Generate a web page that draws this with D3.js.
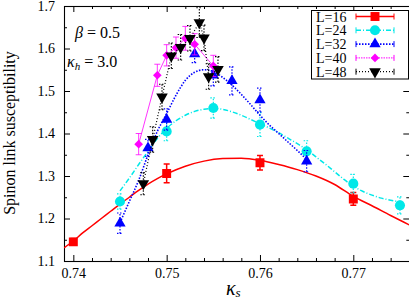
<!DOCTYPE html>
<html><head><meta charset="utf-8">
<script src="https://cdn.jsdelivr.net/npm/d3@7"></script>
<style>
body{margin:0;background:#fff}
svg{display:block}
text{font-family:"Liberation Serif","Times New Roman",serif;fill:#000}
</style>
</head><body>
<svg id="c" width="409" height="302"></svg>
<script>
// ---------------- data ----------------
const seriesNames = ["L=16","L=24","L=32","L=40","L=48"];

const k16 = [0.740,0.750,0.760,0.770];
const y16 = [1.145,1.306,1.331,1.246];
const e16 = [0.008,0.022,0.017,0.015];

const k24 = [0.745,0.750,0.755,0.760,0.765,0.770,0.775];
const y24 = [1.240,1.405,1.460,1.421,1.358,1.282,1.231];
const e24 = [0.018,0.022,0.024,0.028,0.025,0.022,0.020];

const k32 = [0.745,0.748,0.750,0.753,0.755,0.757,0.760,0.765];
const y32 = [1.189,1.366,1.433,1.587,1.537,1.524,1.479,1.335];
const e32 = [0.024,0.020,0.025,0.020,0.025,0.033,0.028,0.025];

const k40 = [0.747,0.749,0.750,0.751,0.752,0.753,0.755];
const y40 = [1.375,1.537,1.584,1.602,1.624,1.610,1.559];
const e40 = [0.025,0.026,0.025,0.025,0.028,0.025,0.025];

const k48 = [0.7475,0.7485,0.7495,0.7505,0.7515,0.7525,0.7535,0.7540,0.7545,0.7555];
const y48 = [1.282,1.386,1.486,1.583,1.603,1.624,1.661,1.625,1.534,1.551];
const e48 = [0.026,0.030,0.030,0.030,0.030,0.030,0.035,0.030,0.030,0.030];

// smooth curves
const fk16 = [0.739,0.740,0.741,0.742,0.743,0.744,0.745,0.746,0.747,0.748,0.749,0.750,0.752,0.754,0.756,0.758,0.760,0.762,0.764,0.766,0.768,0.770,0.772,0.774,0.776];
const fy16 = [1.131,1.147,1.166,1.183,1.200,1.217,1.234,1.250,1.266,1.281,1.294,1.305,1.323,1.335,1.341,1.342,1.337,1.327,1.315,1.300,1.280,1.252,1.230,1.207,1.185];

const fk24 = [0.745,0.746,0.747,0.748,0.749,0.750,0.751,0.752,0.753,0.754,0.755,0.756,0.757,0.758,0.759,0.760,0.761,0.762,0.763,0.764,0.765,0.766,0.767,0.768,0.769,0.770,0.771,0.772,0.773,0.774,0.775];
const fy24 = [1.265,1.295,1.327,1.358,1.388,1.412,1.430,1.443,1.452,1.457,1.459,1.457,1.451,1.443,1.433,1.423,1.413,1.402,1.389,1.376,1.362,1.345,1.328,1.310,1.292,1.276,1.264,1.255,1.248,1.243,1.239];

const fk32 = [0.745,0.746,0.747,0.748,0.749,0.750,0.751,0.752,0.753,0.754,0.755,0.756,0.757,0.758,0.759,0.760,0.761,0.762,0.763,0.764,0.765];
const fy32 = [1.190,1.240,1.290,1.350,1.405,1.447,1.490,1.525,1.544,1.550,1.546,1.532,1.514,1.492,1.468,1.443,1.420,1.400,1.380,1.360,1.339];

const xTicks = [0.74,0.75,0.76,0.77];
const yTicks = [1.1,1.2,1.3,1.4,1.5,1.6,1.7];

// ---------------- drawing ----------------
const svg = d3.select("#c");
const L = 64, R = 409.3, T = 6, B = 261;
const x = d3.scaleLinear().domain([0.739,0.776]).range([L,R]);
const y = d3.scaleLinear().domain([1.1,1.7]).range([B,T]);

svg.append("clipPath").attr("id","clp").append("rect")
  .attr("x",L).attr("y",T).attr("width",R-L).attr("height",B-T);

// axes
const xMinor = d3.range(0.740,0.7761,0.002).filter(v=>!xTicks.some(t=>Math.abs(t-v)<1e-6));
const yMinor = d3.range(1.15,1.7,0.1);
function ax(gen, tx, ty, vals, size, fmt, pad){
  const g = svg.append("g").attr("transform",`translate(${tx},${ty})`)
    .call(gen.tickValues(vals).tickSize(size).tickPadding(pad||3).tickFormat(fmt));
  g.select(".domain").remove();
  g.selectAll("line").attr("stroke","#000").attr("stroke-width",1);
  g.selectAll("text").style("font-size","14px").attr("font-family",null);
  return g;
}
ax(d3.axisBottom(x),0,B,xTicks,-6,d3.format(".2f"),7);
ax(d3.axisBottom(x),0,B,xMinor,-3,()=> "");
ax(d3.axisTop(x),0,T,xTicks,-6,()=> "");
ax(d3.axisTop(x),0,T,xMinor,-3,()=> "");
ax(d3.axisLeft(y),L,0,yTicks,-6,d3.format(".1f"),9);
ax(d3.axisLeft(y),L,0,yMinor,-3,()=> "");
ax(d3.axisRight(y),R,0,yTicks,-6,()=> "");
ax(d3.axisRight(y),R,0,yMinor,-3,()=> "");

svg.append("rect").attr("x",L+0.5).attr("y",T+0.5).attr("width",R-L).attr("height",B-T)
  .attr("fill","none").attr("stroke","#000").attr("stroke-width",1.1);

const plot = svg.append("g").attr("clip-path","url(#clp)");

const styles = [
  {c:"#ff0000", dash:null, w:1.5, sym:d3.symbolSquare, size:80, rot:0, fit:[fk16,fy16], lw:1.5},
  {c:"#00e8e8", dash:"5,2,1,2", w:1.2, sym:d3.symbolCircle, size:80, rot:0, fit:[fk24,fy24], lw:1.5},
  {c:"#0000ff", dash:"1.5,1.5", w:1.2, sym:d3.symbolTriangle, size:55, rot:0, fit:[fk32,fy32], lw:1.6},
  {c:"#ff00ff", dash:null, w:0.8, sym:d3.symbolDiamond2, size:48, rot:0, fit:null, lw:0.8, ldash:"1.5,1"},
  {c:"#000000", dash:"1,2", w:1.1, sym:d3.symbolTriangle, size:58, rot:180, fit:null, lw:1.2}
];
const data = [[k16,y16,e16],[k24,y24,e24],[k32,y32,e32],[k40,y40,e40],[k48,y48,e48]];

const line = d3.line().x(d=>x(d[0])).y(d=>y(d[1])).curve(d3.curveMonotoneX);
const sline = d3.line().x(d=>x(d[0])).y(d=>y(d[1]));

data.forEach((ds,i)=>{
  const st = styles[i];
  const pts = ds[0].map((k,j)=>[k,ds[1][j],ds[2][j]]);
  const g = plot.append("g");
  if(st.fit){
    const fp = st.fit[0].map((k,j)=>[k,st.fit[1][j]]);
    g.append("path").attr("d",line(fp)).attr("fill","none").attr("stroke",st.c)
      .attr("stroke-width",st.lw).attr("stroke-dasharray",st.dash);
  } else {
    g.append("path").attr("d",sline(pts)).attr("fill","none").attr("stroke",st.c)
      .attr("stroke-width",st.lw).attr("stroke-dasharray",st.dash);
  }
  pts.forEach(p=>{
    const px = x(p[0]), y0 = y(p[1]-p[2]), y1 = y(p[1]+p[2]);
    const eb = g.append("g").attr("stroke",st.c).attr("stroke-width",st.w).attr("stroke-dasharray",st.dash ? "1.5,1.5" : null);
    eb.append("line").attr("x1",px).attr("x2",px).attr("y1",y0).attr("y2",y1);
    eb.append("line").attr("x1",px-3).attr("x2",px+3).attr("y1",y0).attr("y2",y0).attr("stroke-dasharray",null);
    eb.append("line").attr("x1",px-3).attr("x2",px+3).attr("y1",y1).attr("y2",y1).attr("stroke-dasharray",null);
  });
  g.selectAll("path.m").data(pts).join("path").attr("class","m")
    .attr("d",d3.symbol().type(st.sym).size(st.size))
    .attr("transform",d=>`translate(${x(d[0])},${y(d[1])}) rotate(${st.rot})`)
    .attr("fill",st.c);
});

// legend
const lg = svg.append("g");
lg.append("rect").attr("x",311.5).attr("y",10.5).attr("width",97).attr("height",68.5)
  .attr("fill","#fff").attr("stroke","#000").attr("stroke-width",1);
seriesNames.forEach((nm,i)=>{
  const st = styles[i];
  const yy = 16.5 + i*13.8;
  lg.append("text").attr("x",316).attr("y",yy+5).style("font-size","14px").text(nm);
  const g = lg.append("g").attr("stroke",st.c);
  g.append("line").attr("x1",356).attr("x2",394).attr("y1",yy).attr("y2",yy)
    .attr("stroke-width",Math.max(st.lw,1)).attr("stroke-dasharray",st.ldash||st.dash);
  g.append("line").attr("x1",356).attr("x2",356).attr("y1",yy-3).attr("y2",yy+3).attr("stroke-width",1);
  g.append("line").attr("x1",394).attr("x2",394).attr("y1",yy-3).attr("y2",yy+3).attr("stroke-width",1);
  lg.append("path").attr("d",d3.symbol().type(st.sym).size(st.size)())
    .attr("transform",`translate(375,${yy}) rotate(${st.rot})`).attr("fill",st.c);
});

// annotations
const t1 = svg.append("text").attr("x",75).attr("y",38).style("font-size","16px");
t1.append("tspan").attr("font-style","italic").text("β");
t1.append("tspan").text(" = 0.5");
const t2 = svg.append("text").attr("x",67).attr("y",67).style("font-size","16px");
t2.append("tspan").attr("font-style","italic").text("κ");
t2.append("tspan").attr("font-style","italic").attr("dy",3).style("font-size","11px").text("h");
t2.append("tspan").attr("dy",-3).text(" = 3.0");

// axis titles
svg.append("text").attr("transform","translate(15,133) rotate(-90)")
  .attr("text-anchor","middle").style("font-size","16px").text("Spinon link susceptibility");
const xt = svg.append("text").attr("x",226).attr("y",295).style("font-size","20px");
xt.append("tspan").attr("font-style","italic").text("κ");
xt.append("tspan").attr("font-style","italic").attr("dy",2).style("font-size","13px").text("s");
</script>
</body></html>
